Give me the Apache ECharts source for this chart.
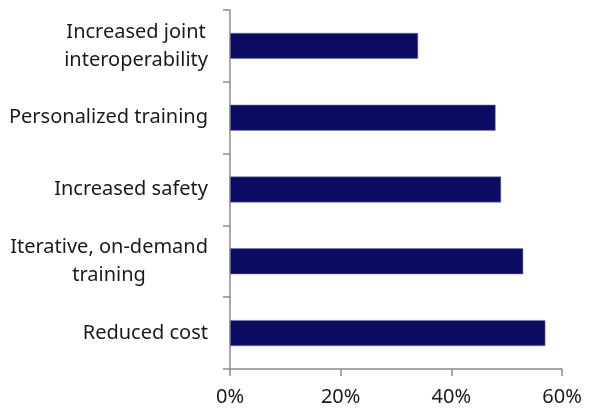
<!DOCTYPE html>
<html>
<head>
<meta charset="utf-8">
<style>
  html, body { margin: 0; padding: 0; background: #ffffff; }
  #chart { width: 596px; height: 409px; }
</style>
<script src="https://cdn.jsdelivr.net/npm/echarts@6/dist/echarts.min.js"></script>
</head>
<body>
<div id="chart"></div>
<script>
// Benefits, listed top to bottom
const categories = [
  'Increased joint\ninteroperability',
  'Personalized training',
  'Increased safety',
  'Iterative, on-demand\ntraining',
  'Reduced cost'
];
// Share of respondents (percent)
const shares = [34, 48, 49, 53, 57];
// Value axis ticks (percent)
const xTicks = [0, 20, 40, 60];

const axisGrey = '#8c8c8c';
const textFont = '"Noto Sans", "Open Sans", sans-serif';

const chart = echarts.init(document.getElementById('chart'), null, { renderer: 'canvas' });
chart.setOption({
  animation: false,
  grid: { left: 230, right: 34, top: 10, bottom: 40, containLabel: false },
  xAxis: {
    type: 'value',
    min: xTicks[0],
    max: xTicks[xTicks.length - 1],
    interval: xTicks[1] - xTicks[0],
    axisLine: { show: true, lineStyle: { color: axisGrey, width: 1.5 } },
    axisTick: { show: true, length: 7, lineStyle: { color: axisGrey, width: 1.5 } },
    splitLine: { show: false },
    axisLabel: {
      formatter: v => v + '%',
      color: '#1a1a1a',
      fontSize: 20,
      fontFamily: textFont,
      margin: 18
    }
  },
  yAxis: {
    type: 'category',
    data: categories,
    inverse: true,
    axisLine: { show: true, lineStyle: { color: axisGrey, width: 1.5 } },
    axisTick: { show: true, length: 7, lineStyle: { color: axisGrey, width: 1.5 } },
    axisLabel: {
      // each wrapped line is centred within the right-aligned label block
      formatter: v => v.split('\n').map(s => '{c|' + s + '}').join('\n'),
      margin: 22,
      align: 'right',
      rich: {
        c: {
          align: 'center',
          color: '#1a1a1a',
          fontSize: 20,
          lineHeight: 28,
          fontFamily: textFont
        }
      }
    }
  },
  series: [{
    type: 'bar',
    data: shares,
    barWidth: 26,
    itemStyle: {
      color: '#0b0b62',
      borderColor: '#7a7ab0',
      borderWidth: 0.6
    }
  }]
});
</script>
</body>
</html>
